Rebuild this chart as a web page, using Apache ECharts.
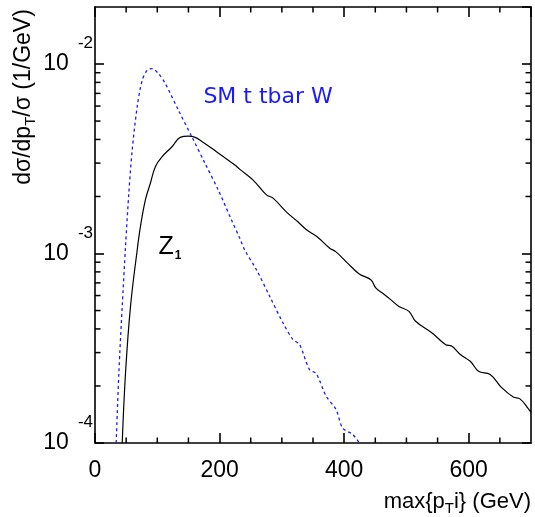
<!DOCTYPE html>
<html><head><meta charset="utf-8">
<script src="https://cdn.jsdelivr.net/npm/echarts@6/dist/echarts.min.js"></script>
<style>html,body{margin:0;padding:0;background:#fff}#c{width:535px;height:517px}</style>
</head><body><div id="c"></div>
<script>
// ---- data ----
const smPt  = [34, 38.3, 43.7, 49, 54.3, 59.7, 67.7, 75.7, 83.6, 91.6, 102, 112.9, 134, 155.5, 176.7, 198, 219.3, 232.6, 240.6, 259.3, 280.5, 301.7, 317.7, 328.4, 344.4, 355, 371, 387, 397.5, 413.5, 424.2, 430];
const smVal = [1.0e-4, 2.34e-4, 5.26e-4, 1.09e-3, 2.08e-3, 3.51e-3, 5.94e-3, 8.2e-3, 9.25e-3, 9.46e-3, 8.9e-3, 7.89e-3, 5.7e-3, 4.13e-3, 2.99e-3, 2.16e-3, 1.5e-3, 1.2e-3, 1.04e-3, 8.2e-4, 5.94e-4, 4.31e-4, 3.52e-4, 3.31e-4, 2.44e-4, 2.33e-4, 1.77e-4, 1.5e-4, 1.2e-4, 1.11e-4, 1.0e-4, 9.0e-5];
const z1Pt  = [43.7, 49, 57, 67.7, 73, 80.9, 88.9, 96.9, 107.6, 123.6, 136.8, 150, 160.8, 171.5, 187.4, 224.6, 232.6, 253.8, 275.2, 285.8, 307.1, 325.7, 339, 357.6, 376.3, 386.9, 405.5, 424.2, 442.8, 450.8, 461.4, 474.8, 488, 504, 514.7, 541.2, 562.6, 573.1, 586.5, 602.5, 615.8, 634.4, 652.9, 671.6, 682.3, 695.6, 700];
const z1Val = [1.0e-4, 2.34e-4, 5.26e-4, 1.04e-3, 1.39e-3, 1.92e-3, 2.35e-3, 2.87e-3, 3.24e-3, 3.66e-3, 4.1e-3, 4.16e-3, 4.1e-3, 3.9e-3, 3.59e-3, 2.93e-3, 2.78e-3, 2.44e-3, 2.04e-3, 1.96e-3, 1.66e-3, 1.47e-3, 1.34e-3, 1.22e-3, 1.07e-3, 1.02e-3, 8.9e-4, 7.8e-4, 7.27e-4, 6.58e-4, 6.19e-4, 5.71e-4, 5.26e-4, 4.95e-4, 4.39e-4, 3.81e-4, 3.31e-4, 3.24e-4, 2.93e-4, 2.70e-4, 2.39e-4, 2.30e-4, 1.96e-4, 1.75e-4, 1.71e-4, 1.52e-4, 1.45e-4];
const xMin = 0, xMax = 700, xMajor = 200;
const xMinorTicks = [50, 100, 150, 250, 300, 350, 450, 500, 550, 650];
const yMin = 1e-4, yMax = 0.02;
const yMinorTicks = [2e-4,3e-4,4e-4,5e-4,6e-4,7e-4,8e-4,9e-4,2e-3,3e-3,4e-3,5e-3,6e-3,7e-3,8e-3,9e-3];
const seriesNames = ['SM t tbar W', 'Z1'];
const labelPos = { sm: [174, 6.7e-3], z1: [101.8, 1.08e-3] };

const FONT = 'Liberation Sans';
const pair = (xs, ys) => xs.map((x, i) => [x, ys[i]]);

const chart = echarts.init(document.getElementById('c'));

function majorX(pos, labels) {
  return {
    type: 'value', position: pos, min: xMin, max: xMax, interval: xMajor,
    axisLine: {show: true, onZero: false, lineStyle: {color: '#000', width: 1.6}},
    axisTick: {show: true, inside: true, length: 10, lineStyle: {color: '#000', width: 1.6}},
    axisLabel: {show: labels, showMaxLabel: false, fontSize: 23, fontFamily: FONT, color: '#000', margin: 16},
    splitLine: {show: false}
  };
}
function majorY(pos, labels) {
  return {
    type: 'log', logBase: 10, position: pos, min: yMin, max: yMax,
    axisLine: {show: true, onZero: false, lineStyle: {color: '#000', width: 1.6}},
    axisTick: {show: true, inside: true, length: 9, lineStyle: {color: '#000', width: 1.6}},
    axisLabel: {
      show: labels, showMaxLabel: false, margin: 2, fontFamily: FONT, color: '#000',
      formatter: v => '{b|10}{s|' + Math.round(Math.log10(v)) + '}',
      rich: {
        b: {fontSize: 23, fontFamily: FONT, color: '#000', lineHeight: 58, verticalAlign: 'middle'},
        s: {fontSize: 17, fontFamily: FONT, color: '#000', lineHeight: 17, verticalAlign: 'top', padding: [0, 0, 0, 9]}
      }
    },
    splitLine: {show: false}
  };
}

chart.setOption({
  animation: false,
  grid: {left: 95, right: 4, top: 7, bottom: 74},
  xAxis: [majorX('bottom', true), majorX('top', false)],
  yAxis: [majorY('left', true), majorY('right', false)],
  series: [
    {
      name: seriesNames[0], type: 'line', data: pair(smPt, smVal), showSymbol: false, symbol: 'none',
      smooth: 0.3, clip: true,
      lineStyle: {color: '#1a1aff', width: 1.3, type: [3, 3]}
    },
    {
      name: seriesNames[1], type: 'line', data: pair(z1Pt, z1Val), showSymbol: false, symbol: 'none',
      smooth: 0.4, clip: true,
      lineStyle: {color: '#000', width: 1.2}
    }
  ]
});

const toPx = p => chart.convertToPixel({xAxisIndex: 0, yAxisIndex: 0}, p);
const pSm = toPx(labelPos.sm);
const pZ = toPx(labelPos.z1);

const ticks = [];
const seg = (x1, y1, x2, y2) => ({type: 'line', z: 100, silent: true, shape: {x1, y1, x2, y2}, style: {stroke: '#000', lineWidth: 1.5}});
xMinorTicks.forEach(v => {
  const b = toPx([v, yMin]), t = toPx([v, yMax]);
  ticks.push(seg(b[0], b[1], b[0], b[1] - 5.5));
  ticks.push(seg(t[0], t[1], t[0], t[1] + 5.5));
});
yMinorTicks.forEach(v => {
  const l = toPx([xMin, v]), r = toPx([xMax, v]);
  ticks.push(seg(l[0], l[1], l[0] + 5.5, l[1]));
  ticks.push(seg(r[0], r[1], r[0] - 5.5, r[1]));
});

chart.setOption({
  graphic: ticks.concat([
    {type: 'text', x: pSm[0], y: pSm[1], silent: true,
     style: {text: seriesNames[0], fontSize: 22, fontFamily: 'DejaVu Sans', fill: '#1a1aff', align: 'left', verticalAlign: 'middle'}},
    {type: 'text', x: pZ[0], y: pZ[1], silent: true,
     style: {text: '{a|Z}{b|1}', align: 'left', verticalAlign: 'middle',
       rich: {a: {fontSize: 25, fontFamily: FONT, fill: '#000', lineHeight: 30, verticalAlign: 'middle'},
              b: {fontSize: 12, fontFamily: FONT, fontWeight: 'bold', fill: '#000', lineHeight: 12, verticalAlign: 'bottom', padding: [0, 0, 0, 1]}}}},
    {type: 'text', x: 531, y: 502, silent: true,
     style: {text: 'max{p{sub|T}i} (GeV)', fontSize: 22, fontFamily: FONT, fill: '#000', align: 'right', verticalAlign: 'middle', lineHeight: 28,
       rich: {sub: {fontSize: 15, fontFamily: FONT, fill: '#000', lineHeight: 15, verticalAlign: 'bottom'}}}},
    {type: 'text', x: 24, y: 97, rotation: Math.PI / 2, silent: true,
     style: {text: 'dσ/dp{sub|T}/σ (1/GeV)', fontSize: 23, fontFamily: FONT, fill: '#000', align: 'center', verticalAlign: 'middle', lineHeight: 28,
       rich: {sub: {fontSize: 15, fontFamily: FONT, fill: '#000', lineHeight: 15, verticalAlign: 'bottom'}}}}
  ])
});
</script>
</body></html>
